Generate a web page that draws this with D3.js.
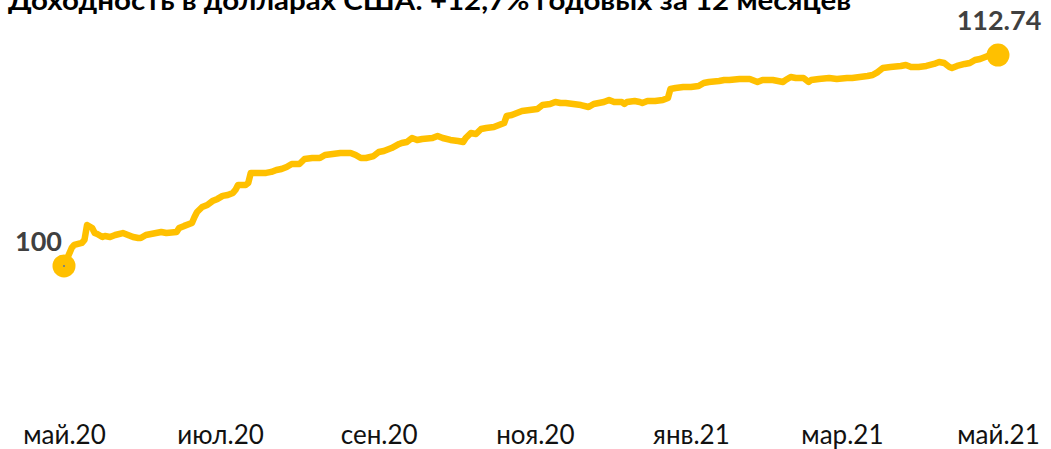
<!DOCTYPE html>
<html>
<head>
<meta charset="utf-8">
<script src="https://cdn.jsdelivr.net/npm/d3@7"></script>
<style>
  body { margin: 0; background: #fff; }
  svg { display: block; }
</style>
</head>
<body>
<div id="chart"></div>
<script>
const title = "Доходность в долларах США: +12,7% годовых за 12 месяцев";
const startDate = "2020-05-01";

// дни от начала периода
const dayOffsets = [
  0, 3, 4, 7, 8, 9, 11, 12, 13, 15,
  16, 18, 20, 23, 25, 27, 29, 30, 32, 36,
  38, 40, 44, 45, 47, 50, 51, 52, 54, 56,
  58, 60, 62, 64, 66, 67, 68, 71, 72, 73,
  75, 79, 81, 83, 85, 87, 89, 92, 94, 97,
  100, 102, 105, 108, 112, 114, 116, 118, 121, 123,
  125, 128, 131, 132, 134, 136, 138, 140, 144, 146,
  148, 151, 154, 156, 157, 159, 161, 163, 165, 168,
  170, 172, 173, 175, 177, 179, 182, 185, 187, 190,
  192, 194, 196, 199, 202, 205, 207, 209, 211, 213,
  215, 218, 219, 220, 223, 225, 226, 228, 231, 234,
  236, 237, 239, 242, 245, 248, 250, 252, 256, 258,
  260, 264, 268, 271, 273, 277, 281, 282, 284, 286,
  289, 291, 292, 295, 299, 302, 306, 308, 311, 314,
  316, 318, 320, 323, 327, 329, 331, 334, 337, 340,
  342, 344, 346, 347, 349, 352, 354, 356, 358, 361,
  365
];

// стоимость портфеля, старт = 100
const values = [
  100.00, 101.09, 101.27, 101.39, 101.57, 102.47, 102.29, 101.99, 101.93, 101.75,
  101.81, 101.75, 101.87, 101.99, 101.87, 101.75, 101.69, 101.69, 101.87, 101.99,
  102.05, 101.99, 102.05, 102.29, 102.42, 102.60, 102.96, 103.26, 103.56, 103.68,
  103.92, 104.05, 104.23, 104.29, 104.41, 104.59, 104.89, 104.89, 105.01, 105.62,
  105.62, 105.62, 105.68, 105.80, 105.86, 105.98, 106.16, 106.16, 106.46, 106.52,
  106.52, 106.70, 106.76, 106.82, 106.82, 106.70, 106.52, 106.52, 106.64, 106.88,
  106.94, 107.12, 107.37, 107.43, 107.49, 107.73, 107.61, 107.67, 107.73, 107.85,
  107.73, 107.61, 107.55, 107.49, 107.73, 108.03, 107.97, 108.27, 108.33, 108.39,
  108.51, 108.63, 109.06, 109.12, 109.24, 109.36, 109.42, 109.48, 109.72, 109.78,
  109.90, 109.84, 109.84, 109.78, 109.72, 109.60, 109.78, 109.84, 109.90, 110.02,
  109.90, 109.90, 109.78, 109.90, 109.96, 109.90, 109.84, 109.96, 109.96, 110.02,
  110.14, 110.69, 110.75, 110.81, 110.81, 110.87, 111.05, 111.11, 111.17, 111.23,
  111.23, 111.29, 111.29, 111.11, 111.23, 111.23, 111.11, 111.23, 111.41, 111.35,
  111.35, 111.11, 111.23, 111.29, 111.35, 111.29, 111.35, 111.35, 111.41, 111.47,
  111.53, 111.71, 111.96, 112.02, 112.08, 112.14, 112.02, 112.02, 112.08, 112.20,
  112.32, 112.26, 112.02, 111.96, 112.08, 112.20, 112.26, 112.44, 112.50, 112.68,
  112.74
];

const shortMonths = ["янв", "фев", "мар", "апр", "май", "июн", "июл", "авг", "сен", "окт", "ноя", "дек"];

const width = 1051, height = 449;
const lineColor = "#FFC000";
const labelColor = "#404040";
const fontFamily = "Lato, 'Open Sans', sans-serif";

const start = d3.timeParse("%Y-%m-%d")(startDate);
const data = dayOffsets.map((d, i) => ({ date: d3.timeDay.offset(start, d), value: values[i] }));

const ruLocale = d3.timeFormatLocale({
  dateTime: "%A, %e %B %Y г. %X",
  date: "%d.%m.%Y",
  time: "%H:%M:%S",
  periods: ["", ""],
  days: ["воскресенье", "понедельник", "вторник", "среда", "четверг", "пятница", "суббота"],
  shortDays: ["вс", "пн", "вт", "ср", "чт", "пт", "сб"],
  months: ["январь", "февраль", "март", "апрель", "май", "июнь", "июль", "август", "сентябрь", "октябрь", "ноябрь", "декабрь"],
  shortMonths: shortMonths
});

const svg = d3.select("#chart").append("svg")
  .attr("width", width)
  .attr("height", height);

const x = d3.scaleTime()
  .domain(d3.extent(data, d => d.date))
  .range([64, 998]);

const y = d3.scaleLinear()
  .domain([91, 115])
  .range([415, 17.6]);

// заголовок (обрезан сверху, как на оригинале)
svg.append("text")
  .attr("x", 8)
  .attr("y", 9.5)
  .attr("textLength", 843)
  .attr("lengthAdjust", "spacingAndGlyphs")
  .style("font-family", fontFamily)
  .style("font-weight", "bold")
  .style("font-size", "27px")
  .style("fill", "#000")
  .text(title);

// ось X
const xAxis = svg.append("g")
  .attr("transform", "translate(0,426)")
  .call(d3.axisBottom(x)
    .ticks(d3.timeMonth.every(2))
    .tickSize(0)
    .tickPadding(0)
    .tickFormat(ruLocale.format("%b.%y")));
xAxis.select(".domain").remove();
xAxis.selectAll("text")
  .attr("dy", "0.71em")
  .style("font-family", fontFamily)
  .style("font-size", "26px")
  .style("fill", "#111");

const line = d3.line()
  .x(d => x(d.date))
  .y(d => y(d.value));

svg.append("path")
  .datum(data)
  .attr("fill", "none")
  .attr("stroke", lineColor)
  .attr("stroke-width", 6.5)
  .attr("stroke-linejoin", "round")
  .attr("stroke-linecap", "round")
  .attr("d", line);

const first = data[0], last = data[data.length - 1];

svg.selectAll("circle.end")
  .data([first, last])
  .enter()
  .append("circle")
  .attr("class", "end")
  .attr("cx", d => x(d.date))
  .attr("cy", d => y(d.value))
  .attr("r", 11.5)
  .attr("fill", lineColor);

svg.append("circle")
  .attr("cx", x(first.date))
  .attr("cy", y(first.value))
  .attr("r", 1)
  .attr("fill", "#5a76a0");

svg.append("text")
  .attr("x", x(first.date) - 2)
  .attr("y", y(first.value) - 15)
  .attr("text-anchor", "end")
  .style("font-family", fontFamily)
  .style("font-weight", "bold")
  .style("font-size", "27px")
  .style("fill", labelColor)
  .text(d3.format(".0f")(first.value));

svg.append("text")
  .attr("x", x(last.date) + 1)
  .attr("y", y(last.value) - 25)
  .attr("text-anchor", "middle")
  .style("font-family", fontFamily)
  .style("font-weight", "bold")
  .style("font-size", "27px")
  .style("fill", labelColor)
  .text(d3.format(".2f")(last.value));
</script>
</body>
</html>
